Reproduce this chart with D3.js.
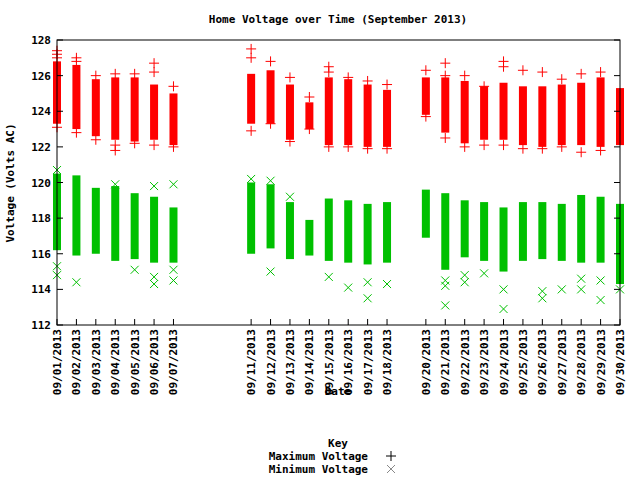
<!DOCTYPE html>
<html><head><meta charset="utf-8">
<script src="https://cdn.jsdelivr.net/npm/d3@7"></script>
<style>body{margin:0;background:#fff}text{font-family:"DejaVu Sans Mono",monospace;font-size:11px;font-weight:bold}</style>
</head><body><svg id="c" width="640" height="480"></svg>
<script>
const days=[1,2,3,4,5,6,7,11,12,13,14,15,16,17,18,20,21,22,23,24,25,26,27,28,29,30];
const maxLow=[123.3,123.0,122.6,122.4,122.3,122.4,122.1,123.3,123.3,122.4,123.0,122.1,122.1,122.0,122.0,123.8,122.8,122.2,122.4,122.4,122.1,122.0,122.1,122.1,122.0,122.1];
const maxHigh=[126.8,126.6,125.8,125.9,125.9,125.5,125.0,126.1,126.3,125.5,124.5,125.9,125.8,125.5,125.2,125.9,125.9,125.7,125.4,125.6,125.4,125.4,125.5,125.6,125.9,125.3];
const minLow=[116.2,115.9,116.0,115.6,115.7,115.5,115.5,116.0,116.3,115.7,115.9,115.6,115.5,115.4,115.5,116.9,115.1,115.8,115.6,115.0,115.6,115.7,115.6,115.5,115.5,114.3];
const minHigh=[120.5,120.4,119.7,119.8,119.4,119.2,118.6,120.0,119.9,118.9,117.9,119.1,119.0,118.8,118.9,119.6,119.4,119.0,118.9,118.6,118.9,118.9,118.8,119.3,119.2,118.8];
const maxOut=[[1,127.4],[1,127.2],[1,127.0],[1,123.1],[2,127.0],[2,126.8],[2,122.8],[3,126.0],[3,122.4],[4,126.1],[4,121.8],[4,122.1],[5,126.1],[5,122.2],[6,126.7],[6,126.2],[6,122.1],[7,125.4],[7,122.0],[11,127.5],[11,127.0],[11,122.9],[12,126.8],[12,123.3],[13,125.9],[13,122.3],[14,124.8],[14,123.0],[15,126.5],[15,126.2],[15,122.0],[16,125.9],[16,122.0],[17,125.7],[17,121.9],[18,125.5],[18,121.9],[20,126.3],[20,123.7],[21,126.7],[21,126.0],[21,122.5],[22,126.0],[22,122.0],[23,125.4],[23,122.1],[24,126.8],[24,126.5],[24,122.1],[25,126.3],[25,121.9],[26,126.2],[26,121.9],[27,125.8],[27,122.0],[28,126.1],[28,121.7],[29,126.2],[29,121.8]];
const minOut=[[1,115.3],[1,114.8],[1,120.7],[2,114.4],[4,119.9],[5,115.1],[6,119.8],[6,114.7],[6,114.3],[7,119.9],[7,115.1],[7,114.5],[11,120.2],[12,115.0],[12,120.1],[13,119.2],[15,114.7],[16,114.1],[17,113.5],[17,114.4],[18,114.3],[21,113.1],[21,114.5],[21,114.2],[22,114.4],[22,114.8],[23,114.9],[24,112.9],[24,114.0],[26,113.5],[26,113.9],[27,114.0],[28,114.6],[28,114.0],[29,113.4],[29,114.5],[30,114.0]];
const yTicks=[112,114,116,118,120,122,124,126,128];
const xTicks=d3.range(1,31);
const svg=d3.select("#c");
const x=d3.scaleLinear().domain([1,30]).range([57,620]);
const y=d3.scaleLinear().domain([112,128]).range([325,40]);
const lab=d=>"09/"+String(d).padStart(2,"0")+"/2013";
const g=svg.append("g");
days.forEach((d,i)=>{
 g.append("rect").attr("x",x(d)-4).attr("width",8).attr("y",y(maxHigh[i])).attr("height",y(maxLow[i])-y(maxHigh[i])).attr("fill","#ff0000");
 g.append("rect").attr("x",x(d)-4).attr("width",8).attr("y",y(minHigh[i])).attr("height",y(minLow[i])-y(minHigh[i])).attr("fill","#00c000");
});
function plus(p,cx,cy,c){p.append("path").attr("d",`M${cx-5},${cy}h10M${cx},${cy-5}v10`).attr("stroke",c).attr("fill","none");}
function cross(p,cx,cy,c){p.append("path").attr("d",`M${cx-4},${cy-4}l8,8M${cx-4},${cy+4}l8,-8`).attr("stroke",c).attr("fill","none");}
maxOut.forEach(([d,v])=>plus(g,x(d),y(v),"#ff0000"));
minOut.forEach(([d,v])=>cross(g,x(d),y(v),"#00c000"));
svg.append("rect").attr("x",57).attr("y",40).attr("width",563).attr("height",285).attr("fill","none").attr("stroke","#000");
yTicks.forEach(t=>{
 svg.append("path").attr("d",`M57,${y(t)}h6M620,${y(t)}h-6`).attr("stroke","#000");
 svg.append("text").attr("x",51).attr("y",y(t)+4).attr("text-anchor","end").text(t);
});
xTicks.forEach(t=>{
 if(!days.includes(t))return;
 svg.append("path").attr("d",`M${x(t)},325v-6`).attr("stroke","#000");
 svg.append("text").attr("transform",`translate(${x(t)+4},329) rotate(-90)`).attr("text-anchor","end").text(lab(t));
});
svg.append("text").attr("x",338).attr("y",23).attr("text-anchor","middle").text("Home Voltage over Time (September 2013)");
svg.append("text").attr("transform","translate(14,183) rotate(-90)").attr("text-anchor","middle").text("Voltage (Volts AC)");
svg.append("text").attr("x",338).attr("y",395).attr("text-anchor","middle").text("Date");
svg.append("text").attr("x",338).attr("y",447).attr("text-anchor","middle").text("Key");
svg.append("text").attr("x",368).attr("y",460).attr("text-anchor","end").text("Maximum Voltage");
svg.append("text").attr("x",368).attr("y",473).attr("text-anchor","end").text("Minimum Voltage");
plus(svg,391,456,"#000");cross(svg,391,469,"#888");
</script></body></html>
